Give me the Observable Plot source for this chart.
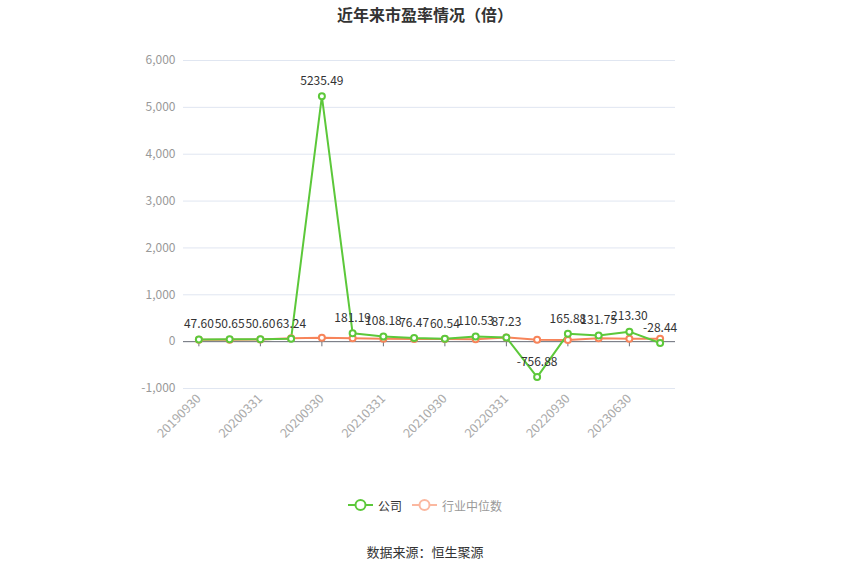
<!DOCTYPE html>
<html>
<head>
<meta charset="utf-8">
<script src="https://cdn.jsdelivr.net/npm/d3@7"></script>
<script src="https://cdn.jsdelivr.net/npm/@observablehq/plot@0.6"></script>
<style>
  html, body { margin: 0; padding: 0; background: #fff; }
  body { width: 850px; height: 575px; font-family: "Noto Sans CJK SC", "Noto Sans", sans-serif; }
  #title { height: 30px; line-height: 28px; text-align: center; font-size: 16px; font-weight: bold; color: #333; }
  #legend { height: 50px; display: flex; justify-content: center; align-items: center; font-size: 12px; gap: 10px; padding-top: 0px; }
  .item { display: flex; align-items: center; gap: 5px; }
  #caption { text-align: center; font-size: 13px; color: #333; margin-top: 12px; }
</style>
</head>
<body>
<div id="title">近年来市盈率情况（倍）</div>
<div id="chart"></div>
<div id="legend"></div>
<div id="caption">数据来源：恒生聚源</div>
<script>
const dates = ["20190930","20191231","20200331","20200630","20200930","20201231","20210331","20210630","20210930","20211231","20220331","20220630","20220930","20221231","20230630","20230930"];
const company = [47.60, 50.65, 50.60, 63.24, 5235.49, 181.19, 108.18, 76.47, 60.54, 110.53, 87.23, -756.88, 165.88, 131.75, 213.30, -28.44];
const industry = [40, 42, 45, 70, 85, 70, 60, 55, 55, 50, 90, 40, 35, 75, 62, 60];
const yTicks = [-1000, 0, 1000, 2000, 3000, 4000, 5000, 6000];
const seriesNames = ["公司", "行业中位数"];
const colors = ["#5cc83a", "#f7845a"];

const compData = dates.map((d, i) => ({date: d, value: company[i]}));
const indData = dates.map((d, i) => ({date: d, value: industry[i]}));
const tickDates = dates.filter((d, i) => i % 2 === 0);

const chart = Plot.plot({
  width: 850,
  height: 450,
  marginTop: 30,
  marginBottom: 92,
  marginLeft: 183,
  marginRight: 175,
  style: {fontFamily: '"Noto Sans CJK SC", "Noto Sans", sans-serif', fontSize: "12px", background: "#fff"},
  x: {type: "point", domain: dates, padding: 0.5, round: false},
  y: {domain: [-1000, 6000]},
  marks: [
    Plot.gridY(yTicks, {stroke: "#e0e6f1", strokeOpacity: 1}),
    Plot.axisY(yTicks, {tickSize: 0, tickPadding: 8, fill: "#999", fontSize: 12, tickFormat: d => d.toLocaleString("en-US"), label: null}),
    Plot.axisX(tickDates, {tickSize: 0, tickRotate: -45, tickPadding: 8, fill: "#aaa", fontSize: 12.5, label: null}),
    Plot.ruleY([0], {stroke: "#6e7079", strokeWidth: 1}),
    Plot.ruleX(tickDates, {x: d => d, y1: 0, y2: -110, stroke: "#6e7079"}),
    Plot.line(indData, {x: "date", y: "value", stroke: colors[1], strokeWidth: 2}),
    Plot.line(compData, {x: "date", y: "value", stroke: colors[0], strokeWidth: 2}),
    Plot.dot(indData, {x: "date", y: "value", r: 3, fill: "#fff", stroke: colors[1], strokeWidth: 2}),
    Plot.dot(compData, {x: "date", y: "value", r: 3, fill: "#fff", stroke: colors[0], strokeWidth: 2}),
    Plot.text(compData, {x: "date", y: "value", text: d => d.value.toFixed(2), dy: -15, fill: "#333", fontSize: 12})
  ]
});
document.getElementById("chart").appendChild(chart);

const legend = document.getElementById("legend");
const legendColors = ["#5cc83a", "#fbb8a0"];
const textColors = ["#333", "#999"];
seriesNames.forEach((name, i) => {
  const item = document.createElement("div");
  item.className = "item";
  item.innerHTML = `<svg width="25" height="14"><line x1="0" y1="7" x2="25" y2="7" stroke="${legendColors[i]}" stroke-width="2"/><circle cx="12.5" cy="7" r="5" fill="#fff" stroke="${legendColors[i]}" stroke-width="2"/></svg><span style="color:${textColors[i]}">${name}</span>`;
  legend.appendChild(item);
});
</script>
</body>
</html>
